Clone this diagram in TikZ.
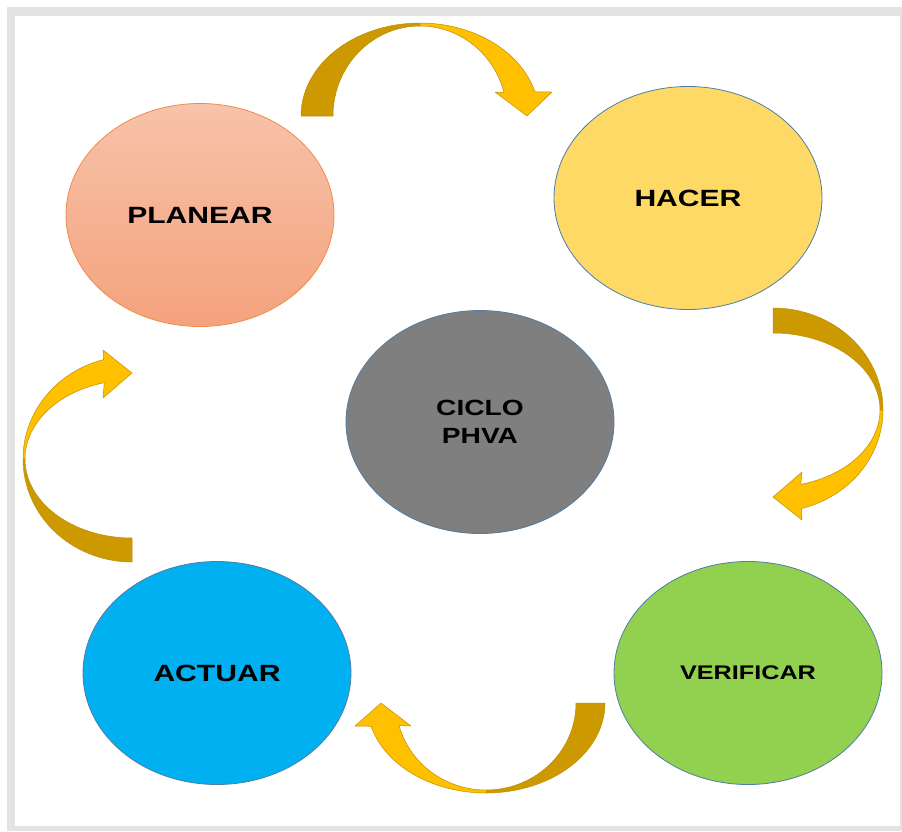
\documentclass[tikz,border=0pt]{standalone}
\usepackage{graphicx}
\usepackage{fontspec}
\setmainfont{Liberation Sans}
\usetikzlibrary{shapes.geometric}
\definecolor{framegray}{RGB}{227,227,227}
\definecolor{golddark}{RGB}{204,153,0}
\definecolor{goldlight}{RGB}{255,192,0}
\definecolor{goldline}{RGB}{191,144,0}
\definecolor{salmontop}{RGB}{247,195,170}
\definecolor{salmonbot}{RGB}{244,162,124}
\definecolor{orangeline}{RGB}{240,140,75}
\definecolor{blueline}{RGB}{80,125,165}
\definecolor{hacerfill}{RGB}{255,217,102}
\definecolor{ciclofill}{RGB}{127,127,127}
\definecolor{actuarfill}{RGB}{0,176,240}
\definecolor{verifill}{RGB}{146,208,80}
\newcommand\stretchtxt[1]{\scalebox{1.28}[1]{#1}}
\begin{document}
\begin{tikzpicture}[x=1pt,y=-1pt,
  phase/.style={ellipse, minimum width=268pt, minimum height=223pt, inner sep=0pt, line width=0.8pt,
    font=\bfseries\fontsize{23.5}{28}\selectfont, text=black},
  backband/.style={fill=golddark, draw=goldline, line width=0.5pt, line join=round},
  frontband/.style={fill=goldlight, draw=goldline, line width=0.5pt, line join=round}]
\useasboundingbox (0,0) rectangle (902,831);
\fill[white] (0,0) rectangle (902,831);
\fill[framegray] (7,7) rectangle (902,831);
\fill[white] (15,16) rectangle (900,826);

% phases
\node[phase, top color=salmontop, bottom color=salmonbot, draw=orangeline] (planear) at (200,215) {\stretchtxt{PLANEAR}};
\node[phase, fill=hacerfill, draw=blueline] (hacer) at (688,198) {\stretchtxt{HACER}};
\node[phase, fill=ciclofill, draw=blueline, align=center, font=\bfseries\fontsize{22}{28.5}\selectfont] (ciclo) at (480,422) {\stretchtxt{CICLO}\\\stretchtxt{PHVA}};
\node[phase, fill=actuarfill, draw=blueline] (actuar) at (217,673) {\stretchtxt{ACTUAR}};
\node[phase, fill=verifill, draw=blueline, font=\bfseries\fontsize{19.7}{24}\selectfont] (verificar) at (748,673) {\stretchtxt{VERIFICAR}};

% top arrow (PLANEAR -> HACER)
\path[backband] plot[domain=180:90,samples=40] ({420+119*cos(\x)},{116-93*sin(\x)})
  -- plot[domain=90:180,samples=40] ({420+87*cos(\x)},{116-90*sin(\x)}) -- cycle;
\path[frontband] plot[domain=90:15,samples=40] ({420+119*cos(\x)},{116-93*sin(\x)})
  -- (552,92) -- (527,116) -- (495,92)
  -- plot[domain=15:90,samples=40] ({420+87*cos(\x)},{116-90*sin(\x)}) -- cycle;

% right arrow (HACER -> VERIFICAR)
\path[backband] plot[domain=90:0,samples=40] ({773+110*cos(\x)},{410-102*sin(\x)})
  -- plot[domain=0:90,samples=40] ({773+107*cos(\x)},{410-77*sin(\x)}) -- cycle;
\path[frontband] plot[domain=0:-75,samples=40] ({773+110*cos(\x)},{410-102*sin(\x)})
  -- (802,520) -- (773,497) -- (802,472)
  -- plot[domain=-75:0,samples=40] ({773+107*cos(\x)},{410-77*sin(\x)}) -- cycle;

% bottom arrow (VERIFICAR -> ACTUAR)
\path[backband] plot[domain=0:-90,samples=40] ({486+119*cos(\x)},{703-90*sin(\x)})
  -- plot[domain=-90:0,samples=40] ({486+90*cos(\x)},{703-87*sin(\x)}) -- cycle;
\path[frontband] plot[domain=-90:-165,samples=40] ({486+119*cos(\x)},{703-90*sin(\x)})
  -- (355,726) -- (381,703) -- (411,726)
  -- plot[domain=-165:-90,samples=40] ({486+90*cos(\x)},{703-87*sin(\x)}) -- cycle;

% left arrow (ACTUAR -> PLANEAR)
\path[backband] plot[domain=-90:-180,samples=40] ({132+109*cos(\x)},{459-103*sin(\x)})
  -- plot[domain=-180:-90,samples=40] ({132+107*cos(\x)},{459-79*sin(\x)}) -- cycle;
\path[frontband] plot[domain=180:105,samples=40] ({132+109*cos(\x)},{459-103*sin(\x)})
  -- (103,350) -- (132,373) -- (103,398)
  -- plot[domain=105:180,samples=40] ({132+107*cos(\x)},{459-79*sin(\x)}) -- cycle;
\end{tikzpicture}
\end{document}
